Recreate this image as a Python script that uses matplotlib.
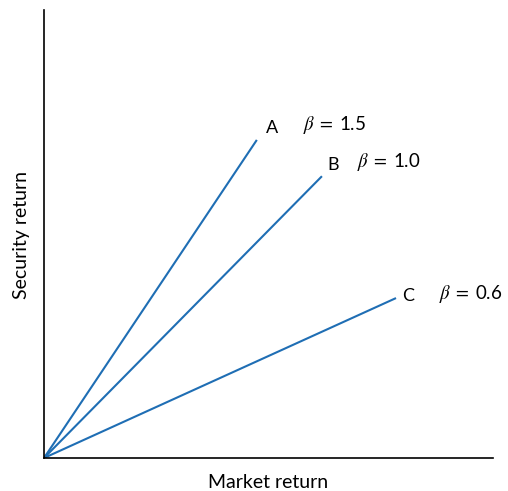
import matplotlib
matplotlib.use("Agg")
import matplotlib.pyplot as plt

plt.rcParams['font.family'] = ['Lato', 'DejaVu Sans']
plt.rcParams['mathtext.fontset'] = 'stix'

names = ["A", "B", "C"]
betas = ["1.5", "1.0", "0.6"]
end_x = [4.74, 6.19, 7.84]
end_y = [7.10, 6.29, 3.57]
name_pos = [(5.08, 7.36), (6.44, 6.54), (8.11, 3.62)]
beta_pos = [(5.77, 7.43), (6.97, 6.61), (8.80, 3.66)]

fig = plt.figure(figsize=(5.08, 4.91), dpi=100)
ax = fig.add_axes([44/508, 33/491, 449/508, 448/491])
ax.set_xlim(0, 10)
ax.set_ylim(0, 10)

color = '#1f6eb4'
for xe, ye in zip(end_x, end_y):
    ax.plot([0, xe], [0, ye], color=color, lw=1.5, solid_capstyle='butt')

for n, (nx, ny), b, (bx, by) in zip(names, name_pos, betas, beta_pos):
    ax.text(nx, ny, n, ha='center', va='center', fontsize=13)
    ax.text(bx, by, r'$\beta\;=\;$' + b, ha='left', va='center', fontsize=13.5)

for s in ['top', 'right']:
    ax.spines[s].set_visible(False)
for s in ['left', 'bottom']:
    ax.spines[s].set_linewidth(1.2)
ax.set_xticks([])
ax.set_yticks([])

fig.text(268/508, 1 - 482/491, 'Market return', ha='center', va='center', fontsize=14)
fig.text(22/508, 1 - 235/491, 'Security return', ha='center', va='center', rotation=90, fontsize=14)

fig.savefig('out.png', dpi=100)
